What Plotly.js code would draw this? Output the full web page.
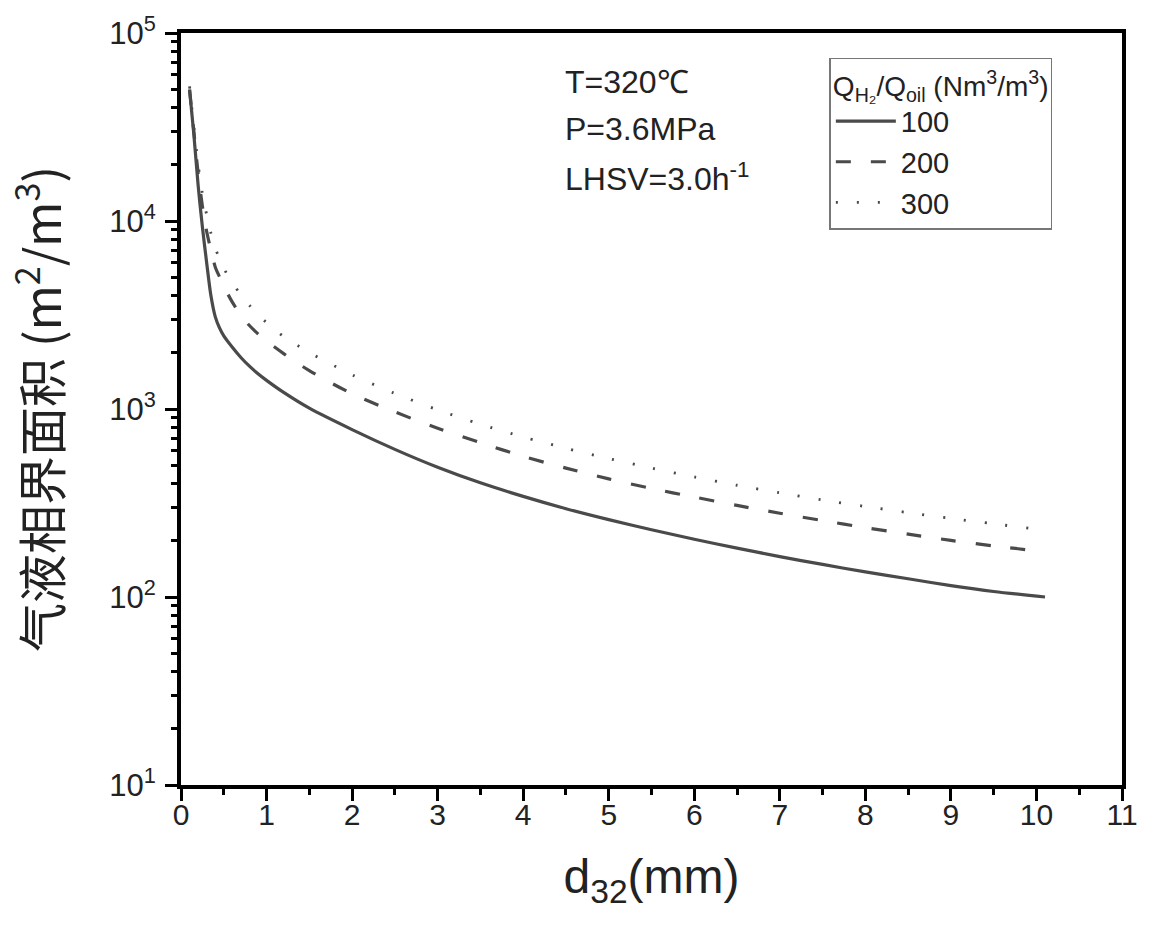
<!DOCTYPE html>
<html>
<head>
<meta charset="utf-8">
<script src="https://cdn.plot.ly/plotly-3.0.1.min.js"></script>
<style>body{margin:0;background:#fff;}#chart{width:1150px;height:940px;}</style>
</head>
<body>
<div id="chart"></div>
<script>
// d32 (mm)
const d32 = [0.1, 0.15, 0.2, 0.25, 0.3, 0.35, 0.4, 0.45, 0.5, 0.6, 0.7, 0.8, 0.9, 1.0, 1.2, 1.5, 2.0, 2.5, 3.0, 3.5, 4.0, 4.5, 5.0, 5.5, 6.0, 6.5, 7.0, 7.5, 8.0, 8.5, 9.0, 9.5, 10.1];
// gas-liquid interfacial area (m2/m3)
const a100 = [50000, 29000, 15500, 9300, 6000, 4000, 3100, 2700, 2450, 2130, 1880, 1690, 1540, 1420, 1225, 1010, 777, 610, 490, 405, 343, 295, 258, 228, 203, 182, 164, 149, 136, 125, 115, 107, 100];
const a200 = [50000, 30000, 18000, 12000, 8800, 7000, 5700, 5050, 4500, 3700, 3150, 2780, 2510, 2300, 1970, 1600, 1205, 965, 790, 662, 560, 485, 425, 378, 340, 307, 279, 255, 234, 216, 200, 187, 174];
const a300 = [52000, 32000, 20000, 14000, 10800, 8600, 7200, 6300, 5600, 4700, 4050, 3560, 3180, 2880, 2430, 2000, 1520, 1210, 990, 830, 710, 618, 545, 485, 435, 393, 358, 328, 303, 281, 262, 245, 227];
const seriesNames = ['100', '200', '300'];
const yTickVals = [10, 100, 1000, 10000, 100000];
const yTickText = ['10<sup>1</sup>', '10<sup>2</sup>', '10<sup>3</sup>', '10<sup>4</sup>', '10<sup>5</sup>'];
const xTickVals = [0,1,2,3,4,5,6,7,8,9,10,11];
const conditions = ['T=320℃', 'P=3.6MPa', 'LHSV=3.0h<sup>-1</sup>'];

const lineColor = '#4a4a4a';
const traces = [
  {x: d32, y: a100, name: seriesNames[0], mode: 'lines', line: {color: lineColor, width: 3.2, dash: 'solid', shape: 'spline', smoothing: 0.8}},
  {x: d32, y: a200, name: seriesNames[1], mode: 'lines', line: {color: lineColor, width: 3.2, dash: '15px,20px', shape: 'spline', smoothing: 0.8}},
  {x: d32, y: a300, name: seriesNames[2], mode: 'lines', line: {color: lineColor, width: 2.8, dash: '2px,19px', shape: 'spline', smoothing: 0.8}}
];

const fontFam = 'Liberation Sans, Arial, sans-serif';
const layout = {
  width: 1150, height: 940,
  margin: {l: 181, r: 28, t: 33, b: 155},
  paper_bgcolor: '#fff', plot_bgcolor: '#fff',
  showlegend: true,
  font: {family: fontFam, color: '#222'},
  xaxis: {
    range: [0, 11], tickvals: xTickVals, ticks: 'outside', ticklen: 12, tickwidth: 3, tickcolor: '#000',
    showline: true, linewidth: 4, linecolor: '#000', mirror: true, showgrid: false, zeroline: false,
    tickfont: {size: 30, family: fontFam, color: '#222'}, ticklabelstandoff: -12,
    minor: {dtick: 0.5, ticks: 'outside', ticklen: 6, tickwidth: 3, tickcolor: '#000', showgrid: false},
    title: {text: 'd<sub>32</sub>(mm)', font: {size: 48, family: fontFam, color: '#222'}, standoff: 30}
  },
  yaxis: {
    type: 'log', range: [1, 5], tickvals: yTickVals, ticktext: yTickText, ticks: 'outside', ticklen: 12, tickwidth: 3, tickcolor: '#000',
    showline: true, linewidth: 4, linecolor: '#000', mirror: true, showgrid: false, zeroline: false,
    tickfont: {size: 31, family: fontFam, color: '#222'}, ticklabelstandoff: 3,
    minor: {dtick: 'D1', ticks: 'outside', ticklen: 6, tickwidth: 3, tickcolor: '#000', showgrid: false},
    title: {text: '气液相界面积 (m<sup>2</sup>/m<sup>3</sup>)', font: {size: 49, family: 'Noto Sans CJK SC, ' + fontFam, color: '#222'}, standoff: 36}
  },
  legend: {
    x: 0.689, y: 0.967, xanchor: 'left', yanchor: 'top',
    bgcolor: '#fff', bordercolor: '#777', borderwidth: 1.5,
    font: {size: 29, family: fontFam, color: '#222'},
    title: {text: 'Q<sub>H₂</sub>/Q<sub>oil</sub> (Nm<sup>3</sup>/m<sup>3</sup>)', font: {size: 28, family: fontFam, color: '#222'}},
    tracegroupgap: 0, itemwidth: 60
  },
  annotations: conditions.map((t, i) => ({
    text: t, xref: 'paper', yref: 'paper', x: 0.406, y: 0.935 - i * 0.063,
    xanchor: 'left', yanchor: 'middle', showarrow: false,
    font: {size: 32, family: fontFam, color: '#222'}
  }))
};

Plotly.newPlot('chart', traces, layout, {displayModeBar: false, staticPlot: true});
</script>
</body>
</html>
